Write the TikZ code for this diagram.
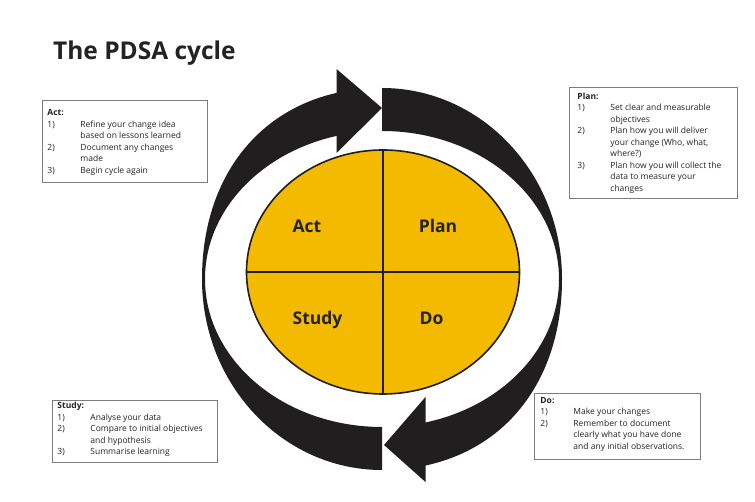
\documentclass[tikz,border=0pt]{standalone}
\usepackage{fontspec}
\setmainfont{Open Sans}
\usetikzlibrary{shapes.geometric}
\definecolor{arrowblk}{RGB}{33,30,31}
\definecolor{pdsayel}{RGB}{244,186,0}
\definecolor{boxgray}{RGB}{125,125,125}
\definecolor{txt}{RGB}{35,35,35}
\newcommand{\boxbody}[5]{\parbox[c][#2][t]{#1}{\vspace*{#3}\fontsize{8.5}{11.5}\selectfont\begin{tabular}{@{\hspace{#4}}p{33pt}@{}l@{}}#5\end{tabular}}}
\begin{document}
\begin{tikzpicture}[x=1pt,y=1pt,
  box/.style={draw=boxgray, line width=0.9pt, inner sep=0pt, anchor=north west, text=txt},
  quad/.style={anchor=base, inner sep=0pt, font=\fontsize{17.5}{20}\selectfont\bfseries, text=txt}]
\useasboundingbox (0,0) rectangle (755,502);
\fill[white] (0,0) rectangle (755,502);

% title
\node[anchor=base west, inner sep=0pt, font=\fontsize{24.5}{28}\selectfont\bfseries, text=txt] (title) at (53,442) {The PDSA cycle};

% cycle arrow on the left (Study -> Act -> Plan)
\begin{scope}
  \clip (0,0) rectangle (400,223) (0,222) rectangle (337.5,502);
  \fill[arrowblk] (382,32) arc[start angle=270, end angle=180, x radius=180, y radius=191]
    .. controls (202,337.2) and (274,414) .. (382,414) -- (382,371)
    arc[start angle=90, end angle=270, x radius=177, y radius=148] -- cycle;
\end{scope}
\fill[arrowblk] (336.5,433) -- (382,394) -- (336.5,349) -- cycle;

% cycle arrow on the right (Plan -> Do -> Study)
\begin{scope}
  \clip (364,223) rectangle (755,502) (424.5,0) rectangle (755,224);
  \fill[arrowblk] (382,414) arc[start angle=90, end angle=0, x radius=180, y radius=191]
    .. controls (562,108.4) and (490,32) .. (382,32) -- (382,75)
    arc[start angle=-90, end angle=90, x radius=177, y radius=148] -- cycle;
\end{scope}
\fill[arrowblk] (425.5,20) -- (384,57) -- (425.5,105) -- cycle;

% central ellipse
\node[ellipse, draw=arrowblk, line width=1.6pt, fill=pdsayel, inner sep=0pt,
  minimum width=273pt, minimum height=244pt] (cyc) at (383,230) {};
\draw[arrowblk, line width=2.6pt] (cyc.north) -- (cyc.south);
\draw[arrowblk, line width=2.6pt] (cyc.west) -- (cyc.east);
\node[quad] (act) at (307,269.3) {Act};
\node[quad] (plan) at (438,269.3) {Plan};
\node[quad] (study) at (317.5,177.7) {Study};
\node[quad] (do) at (431.5,177.7) {Do};

% text boxes
\node[box] (actbox) at (42,402) {\boxbody{165pt}{82pt}{7.5pt}{5pt}{%
  \multicolumn{2}{@{\hspace{5pt}}l@{}}{\bfseries Act:}\\
  1) & Refine your change idea\\
     & based on lessons learned\\
  2) & Document any changes\\
     & made\\
  3) & Begin cycle again}};

\node[box] (planbox) at (569,415) {\boxbody{168pt}{111pt}{4pt}{8pt}{%
  \multicolumn{2}{@{\hspace{8pt}}l@{}}{\bfseries Plan:}\\
  1) & Set clear and measurable\\
     & objectives\\
  2) & Plan how you will deliver\\
     & your change (Who, what,\\
     & where?)\\
  3) & Plan how you will collect the\\
     & data to measure your\\
     & changes}};

\node[box] (studybox) at (52,102) {\boxbody{165pt}{62pt}{0.5pt}{5pt}{%
  \multicolumn{2}{@{\hspace{5pt}}l@{}}{\bfseries Study:}\\
  1) & Analyse your data\\
  2) & Compare to initial objectives\\
     & and hypothesis\\
  3) & Summarise learning}};

\node[box] (dobox) at (534,109) {\boxbody{166pt}{66pt}{2pt}{6pt}{%
  \multicolumn{2}{@{\hspace{6pt}}l@{}}{\bfseries Do:}\\
  1) & Make your changes\\
  2) & Remember to document\\
     & clearly what you have done\\
     & and any initial observations.}};
\end{tikzpicture}
\end{document}
